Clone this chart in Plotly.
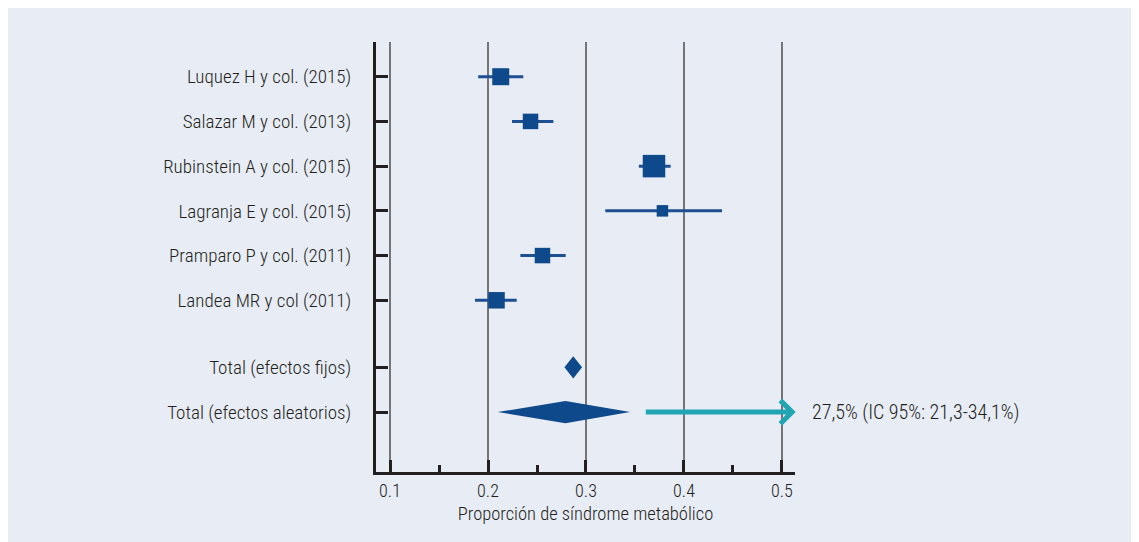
import plotly.graph_objects as go

# ---- data ----
studies = ["Luquez H y col. (2015)", "Salazar M y col. (2013)", "Rubinstein A y col. (2015)",
           "Lagranja E y col. (2015)", "Pramparo P y col. (2011)", "Landea MR y col (2011)"]
estimate = [0.213, 0.2434, 0.3694, 0.378, 0.2556, 0.2087]
ci_low = [0.190, 0.2245, 0.354, 0.3197, 0.233, 0.1867]
ci_high = [0.236, 0.2667, 0.3864, 0.4388, 0.2793, 0.2293]
weight_size = [17, 15.5, 22.5, 11.5, 15.5, 16.5]

pooled_labels = ["Total (efectos fijos)", "Total (efectos aleatorios)"]
pooled_est = [0.287, 0.279]
pooled_low = [0.278, 0.210]
pooled_high = [0.296, 0.345]

x_ticks = [0.1, 0.2, 0.3, 0.4, 0.5]
x_tick_text = ["0.1", "0.2", "0.3", "0.4", "0.5"]
result_text = "27,5% (IC 95%: 21,3-34,1%)"
x_title = "Proporción de síndrome metabólico"
arrow_from = 0.3595
arrow_to = 0.514

# ---- styles ----
FONT = "Roboto Condensed, Liberation Sans Narrow, sans-serif"
TXT = "#231f20"
BLUE = "#0e4a8b"
BLUE_LINE = "#1d4f92"
TEAL = "#22a5b3"
BG = "#e8ecf5"

rows = list(range(len(studies)))
pooled_rows = [len(studies) + 0.5, len(studies) + 1.5]
half_h = 0.25

fig = go.Figure()

fig.add_trace(go.Scatter(
    x=estimate, y=rows, mode="markers",
    marker=dict(symbol="square", size=weight_size, color=BLUE, opacity=1, line=dict(width=0)),
    error_x=dict(type="data", symmetric=False,
                 array=[h - e for h, e in zip(ci_high, estimate)],
                 arrayminus=[e - l for e, l in zip(estimate, ci_low)],
                 thickness=3, width=0, color=BLUE_LINE),
    showlegend=False, hoverinfo="skip"))

for r, c, lo, hi in zip(pooled_rows, pooled_est, pooled_low, pooled_high):
    fig.add_trace(go.Scatter(
        x=[lo, c, hi, c, lo], y=[r, r - half_h, r, r + half_h, r],
        mode="lines", fill="toself", fillcolor=BLUE,
        line=dict(color=BLUE, width=0), showlegend=False, hoverinfo="skip"))

# arrow pointing to the result
fig.add_annotation(
    x=arrow_to, y=pooled_rows[1], ax=arrow_from, ay=pooled_rows[1],
    xref="x", yref="y", axref="x", ayref="y",
    showarrow=True, arrowhead=4, arrowwidth=5, arrowsize=0.9,
    arrowcolor=TEAL, text="")
fig.add_annotation(
    x=1.036, y=pooled_rows[1], xref="paper", yref="y",
    text=result_text, showarrow=False, xanchor="left", yanchor="middle",
    font=dict(family=FONT, size=20, color=TXT, weight=300))

fig.update_layout(
    width=1139, height=542,
    margin=dict(l=368, r=352, t=34, b=78),
    paper_bgcolor=BG, plot_bgcolor=BG,
    font=dict(family=FONT, size=19, color=TXT, weight=300),
    xaxis=dict(
        range=[0.0857, 0.5133], tickvals=x_ticks, ticktext=x_tick_text,
        showgrid=True, gridcolor="#747578", gridwidth=1.5,
        showline=True, linecolor=TXT, linewidth=3,
        ticks="inside", ticklen=12, tickwidth=3, tickcolor=TXT,
        minor=dict(dtick=0.05, tick0=0.05, ticks="inside", ticklen=7, tickwidth=3,
                   tickcolor=TXT, showgrid=False),
        zeroline=False, tickfont=dict(size=18, weight=300),
        title=dict(text=x_title, font=dict(size=18.5, weight=300), standoff=8),
    ),
    yaxis=dict(
        range=[8.84, -0.776],
        tickvals=rows + pooled_rows, ticktext=studies + pooled_labels,
        showgrid=False, zeroline=False,
        showline=True, linecolor=TXT, linewidth=3,
        ticks="inside", ticklen=12, tickwidth=3, tickcolor=TXT,
        ticklabelstandoff=18, tickfont=dict(size=19, weight=300),
    ),
)

fig.write_html("out.html")
